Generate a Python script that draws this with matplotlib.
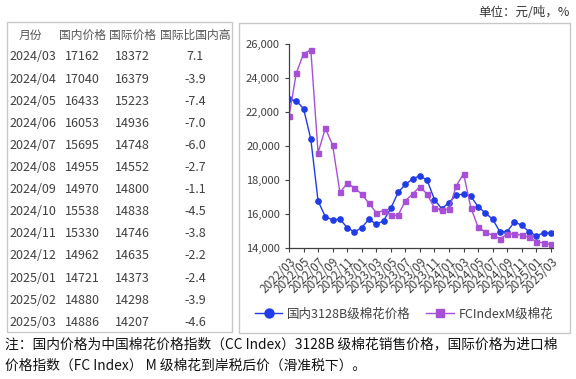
import matplotlib.pyplot as plt
import matplotlib.patches as patches
from matplotlib.ticker import FuncFormatter

plt.rcParams['font.family'] = ['Noto Sans CJK SC', 'DejaVu Sans']

# monthly series 2022/03 - 2025/03
months = [f'{y}/{m:02d}' for y in (2022, 2023, 2024, 2025) for m in range(1, 13)]
months = months[2:39]
domestic = [22750, 22660, 22200, 20400, 16760, 15840, 15650, 15700, 15200, 14940,
            15200, 15700, 15390, 15600, 16330, 17270, 17740, 18060, 18250, 17980,
            16850, 16310, 16670, 17120,
            17162, 17040, 16433, 16053, 15695, 14955, 14970, 15538, 15330, 14962,
            14721, 14880, 14886]
international = [21750, 24280, 25430, 25650, 19600, 21050, 20050, 17270, 17800, 17550,
                 17160, 16630, 16080, 16200, 15940, 15920, 16780, 17180, 17610, 17160,
                 16350, 16240, 16280, 17660,
                 18372, 16379, 15223, 14936, 14748, 14552, 14800, 14838, 14746, 14635,
                 14373, 14298, 14207]

# table rows (last 13 months)
table_months = months[-13:]
table_dom = domestic[-13:]
table_intl = international[-13:]
table_diff = ['7.1', '-3.9', '-7.4', '-7.0', '-6.0', '-2.7', '-1.1', '-4.5',
              '-3.8', '-2.2', '-2.4', '-3.9', '-4.6']
headers = ['月份', '国内价格', '国际价格', '国际比国内高']

W, H = 576, 379
fig = plt.figure(figsize=(W / 100, H / 100), dpi=100)


def fx(px):
    return px / W


def fy(py):
    return 1 - py / H


# frames
fig.patches.append(patches.Rectangle((fx(7), fy(332)), fx(225), 310 / H, transform=fig.transFigure,
                                     fill=False, edgecolor='#c8c8c8', linewidth=1))
fig.patches.append(patches.Rectangle((fx(239), fy(333)), fx(331), 310 / H, transform=fig.transFigure,
                                     fill=False, edgecolor='#c8c8c8', linewidth=1))

fig.text(fx(570), fy(13), '单位：元/吨，%', ha='right', va='center', fontsize=9, color='#333333')

# table
txt = '#404040'
head_x = [30, 82, 132, 195]
for x, h in zip(head_x, headers):
    fig.text(fx(x), fy(35), h, ha='center', va='center', fontsize=8.5, color='#555555')
for i in range(13):
    y = fy(57 + i * 22.1)
    fig.text(fx(9), y, table_months[i], ha='left', va='center', fontsize=9, color=txt)
    fig.text(fx(82), y, str(table_dom[i]), ha='center', va='center', fontsize=9, color=txt)
    fig.text(fx(132), y, str(table_intl[i]), ha='center', va='center', fontsize=9, color=txt)
    fig.text(fx(195), y, table_diff[i], ha='center', va='center', fontsize=9, color=txt)

# line chart
ax = fig.add_axes([fx(289), fy(248), fx(264), 204 / H])
x = list(range(len(months)))
ax.plot(x, domestic, color='#1f3ce6', marker='o', markersize=3.8, linewidth=1,
        label='国内3128B级棉花价格')
ax.plot(x, international, color='#a650d8', marker='s', markersize=3.6, linewidth=1,
        label='FCIndexM级棉花')
ax.set_xlim(0, len(months) - 0.7)
ax.set_ylim(14000, 26000)
ax.set_yticks(range(14000, 26001, 2000))
ax.yaxis.set_major_formatter(FuncFormatter(lambda v, p: f'{int(v):,}'))
ax.set_xticks(x[::2])
ax.set_xticklabels(months[::2], rotation=45, ha='right', rotation_mode='anchor')
ax.tick_params(axis='both', labelsize=8, colors='#404040', length=3, width=0.8)
ax.tick_params(axis='x', pad=2, labelsize=8.5)
for s in ['top', 'right']:
    ax.spines[s].set_visible(False)
for s in ['left', 'bottom']:
    ax.spines[s].set_color('#404040')
    ax.spines[s].set_linewidth(0.9)

fig.legend(loc='center', bbox_to_anchor=(fx(404), fy(314)), ncol=2, frameon=False,
           fontsize=9, handlelength=2.2, columnspacing=1.2, handletextpad=0.4,
           markerscale=1.7, labelcolor='#404040')

# note
fig.text(fx(5), fy(344), '注：国内价格为中国棉花价格指数（CC Index）3128B 级棉花销售价格，国际价格为进口棉',
         ha='left', va='center', fontsize=9.9, color='#111111')
fig.text(fx(5), fy(366), '价格指数（FC Index） M 级棉花到岸税后价（滑准税下）。',
         ha='left', va='center', fontsize=9.9, color='#111111')

plt.savefig('out.png', dpi=100)
